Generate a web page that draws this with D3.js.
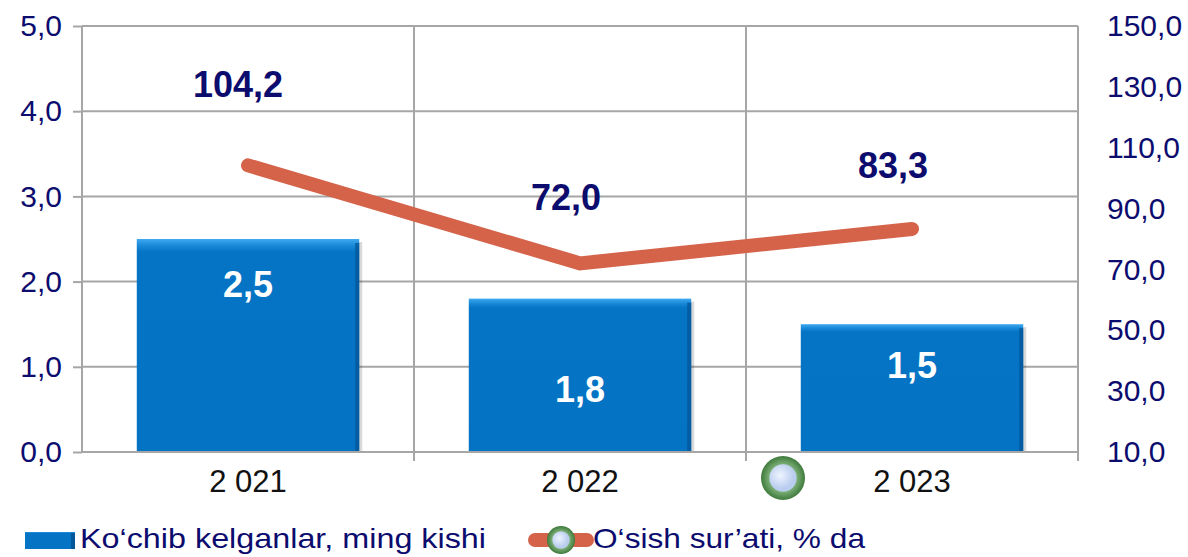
<!DOCTYPE html>
<html>
<head>
<meta charset="utf-8">
<script src="https://cdn.jsdelivr.net/npm/d3@7"></script>
<style>
  body { margin: 0; background: #fff; }
  svg { display: block; font-family: "Liberation Sans", Arial, sans-serif; }
</style>
</head>
<body>
<div id="chart"></div>
<script>
// data
var years = ["2 021", "2 022", "2 023"];
var arrivals = [2.5, 1.8, 1.5];          // Ko'chib kelganlar, ming kishi
var growth = [104.2, 72.0, 83.3];         // O'sish sur'ati, % da
var leftTicks = [0, 1, 2, 3, 4, 5];
var rightTicks = [10, 30, 50, 70, 90, 110, 130, 150];
var barLabelPos = [1.97, 0.73, 1.02];     // where the bar labels sit (left-axis units)
var seriesNames = ["Ko\u2018chib kelganlar, ming kishi", "O\u2018sish sur\u2019ati, % da"];

var W = 1188, H = 557;
var margin = { top: 26, right: 110, bottom: 105, left: 82 };
var width = W - margin.left - margin.right;
var height = H - margin.top - margin.bottom;

var svg = d3.select("#chart").append("svg")
  .attr("width", W).attr("height", H);

var defs = svg.append("defs");
var bg = defs.append("linearGradient").attr("id", "barGrad").attr("x1", 0).attr("y1", 0).attr("x2", 0).attr("y2", 1);
bg.append("stop").attr("offset", "0%").attr("stop-color", "#3fa9f0");
bg.append("stop").attr("offset", "3%").attr("stop-color", "#1a8ad8");
bg.append("stop").attr("offset", "6%").attr("stop-color", "#0574c4");
bg.append("stop").attr("offset", "100%").attr("stop-color", "#0573c3");
var mg = defs.append("radialGradient").attr("id", "ringGrad");
mg.append("stop").attr("offset", "60%").attr("stop-color", "#7fb27a");
mg.append("stop").attr("offset", "100%").attr("stop-color", "#3f7a3c");
var cg = defs.append("radialGradient").attr("id", "coreGrad").attr("cx", "40%").attr("cy", "40%");
cg.append("stop").attr("offset", "0%").attr("stop-color", "#eef4ff");
cg.append("stop").attr("offset", "100%").attr("stop-color", "#b9cdee");

var g = svg.append("g").attr("transform", "translate(" + margin.left + "," + margin.top + ")");

var x = d3.scaleBand().domain(years).range([0, width]).paddingInner(0.33).paddingOuter(0.165);
var xCat = d3.scaleBand().domain(years).range([0, width]);
var yL = d3.scaleLinear().domain([0, 5]).range([height, 0]);
var yR = d3.scaleLinear().domain([10, 150]).range([height, 0]);

var gridColor = "#a6a6a6";
var textColor = "#0c0c6e";
var fmt = function(d) { return d3.format(".1f")(d).replace(".", ","); };

// horizontal gridlines
g.selectAll(".hgrid").data(leftTicks.slice(1)).enter().append("line")
  .attr("x1", 0).attr("x2", width)
  .attr("y1", function(d) { return yL(d); }).attr("y2", function(d) { return yL(d); })
  .attr("stroke", gridColor).attr("stroke-width", 2);

// vertical gridlines between categories
g.selectAll(".vgrid").data(years.slice(1)).enter().append("line")
  .attr("x1", function(d) { return xCat(d); }).attr("x2", function(d) { return xCat(d); })
  .attr("y1", 0).attr("y2", height)
  .attr("stroke", gridColor).attr("stroke-width", 2);

// right border
g.append("line").attr("x1", width).attr("x2", width).attr("y1", 0).attr("y2", height + 9)
  .attr("stroke", gridColor).attr("stroke-width", 2);

// left axis
var axL = g.append("g").call(d3.axisLeft(yL).tickValues(leftTicks).tickSize(9).tickFormat(fmt));
axL.select(".domain").attr("stroke", gridColor).attr("stroke-width", 2).attr("d", "M0,0V" + height);
axL.selectAll(".tick line").attr("stroke", gridColor).attr("stroke-width", 2);
axL.selectAll(".tick text").attr("fill", textColor).attr("font-size", 30).attr("x", -20)
  .style("font-family", "Liberation Sans, Arial, sans-serif");

// right axis (labels only)
var axR = g.append("g").attr("transform", "translate(" + width + ",0)")
  .call(d3.axisRight(yR).tickValues(rightTicks).tickSize(0).tickFormat(fmt));
axR.select(".domain").remove();
axR.selectAll(".tick text").attr("fill", textColor).attr("font-size", 30).attr("x", 29)
  .style("font-family", "Liberation Sans, Arial, sans-serif");

// bars
var bars = g.selectAll(".bar").data(arrivals).enter().append("g");
bars.append("rect")
  .attr("x", function(d, i) { return x(years[i]) + 3; })
  .attr("y", function(d) { return yL(d) + 3; })
  .attr("width", x.bandwidth()).attr("height", function(d) { return height - yL(d) - 3; })
  .attr("fill", "#000").attr("opacity", 0.15);
bars.append("rect")
  .attr("x", function(d, i) { return x(years[i]); })
  .attr("y", function(d) { return yL(d); })
  .attr("width", x.bandwidth()).attr("height", function(d) { return height - yL(d); })
  .attr("fill", "url(#barGrad)");
bars.append("rect")
  .attr("x", function(d, i) { return x(years[i]) + x.bandwidth() - 4; })
  .attr("y", function(d) { return yL(d) + 4; })
  .attr("width", 4).attr("height", function(d) { return height - yL(d) - 4; })
  .attr("fill", "#04589a").attr("opacity", 0.8);
bars.append("text")
  .attr("x", function(d, i) { return x(years[i]) + x.bandwidth() / 2; })
  .attr("y", function(d, i) { return yL(barLabelPos[i]); })
  .attr("dy", "0.35em").attr("text-anchor", "middle")
  .attr("fill", "#fff").attr("font-size", 36).attr("font-weight", "bold")
  .text(fmt);

// bottom axis
var axB = g.append("g").attr("transform", "translate(0," + height + ")")
  .call(d3.axisBottom(xCat).tickSize(0));
axB.select(".domain").attr("stroke", gridColor).attr("stroke-width", 2).attr("d", "M0,0H" + width);
axB.selectAll(".tick text").attr("fill", "#111").attr("font-size", 31).attr("dy", "1.2em")
  .style("font-family", "Liberation Sans, Arial, sans-serif");
g.selectAll(".btick").data(years.slice(1)).enter().append("line")
  .attr("x1", function(d) { return xCat(d); }).attr("x2", function(d) { return xCat(d); })
  .attr("y1", height).attr("y2", height + 9)
  .attr("stroke", gridColor).attr("stroke-width", 2);

// line
var cx = function(d, i) { return xCat(years[i]) + xCat.bandwidth() / 2; };
var line = d3.line().x(cx).y(function(d) { return yR(d); });
g.append("path").datum(growth).attr("d", line)
  .attr("fill", "none").attr("stroke", "#d4634a").attr("stroke-width", 14)
  .attr("stroke-linejoin", "miter").attr("stroke-linecap", "round");

var lblDx = [-10, -14, -19];
var lblDy = [-81, -66, -64];
g.selectAll(".lbl").data(growth).enter().append("text")
  .attr("x", function(d, i) { return cx(d, i) + lblDx[i]; })
  .attr("y", function(d, i) { return yR(d) + lblDy[i]; })
  .attr("text-anchor", "middle").attr("dy", "0.35em")
  .attr("fill", textColor).attr("font-size", 36).attr("font-weight", "bold")
  .text(fmt);

// stray marker below the plot
function marker(sel, px, py, r) {
  sel.append("circle").attr("cx", px).attr("cy", py).attr("r", r).attr("fill", "url(#ringGrad)");
  sel.append("circle").attr("cx", px).attr("cy", py).attr("r", r * 0.62).attr("fill", "url(#coreGrad)");
}
marker(svg, 783, 478, 22);

// legend
var lg = svg.append("g");
lg.append("rect").attr("x", 25).attr("y", 532).attr("width", 50).attr("height", 17).attr("fill", "url(#barGrad)");
lg.append("rect").attr("x", 71).attr("y", 533).attr("width", 4).attr("height", 16).attr("fill", "#04589a");
lg.append("text").attr("x", 80).attr("y", 548).attr("fill", textColor).attr("font-size", 28)
  .attr("textLength", 406).attr("lengthAdjust", "spacingAndGlyphs").text(seriesNames[0]);
lg.append("line").attr("x1", 535).attr("x2", 587).attr("y1", 540).attr("y2", 540)
  .attr("stroke", "#d4634a").attr("stroke-width", 14).attr("stroke-linecap", "round");
marker(lg, 561, 540, 14);
lg.append("text").attr("x", 593).attr("y", 548).attr("fill", textColor).attr("font-size", 28)
  .attr("textLength", 272).attr("lengthAdjust", "spacingAndGlyphs").text(seriesNames[1]);
</script>
</body>
</html>
